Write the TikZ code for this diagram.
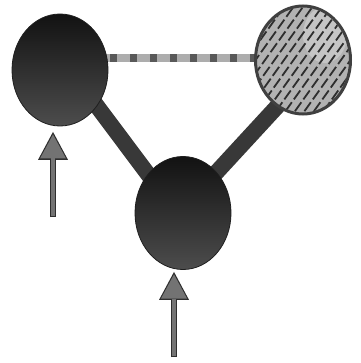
\documentclass[tikz,border=0pt]{standalone}
\usetikzlibrary{shapes.geometric,arrows.meta,calc,backgrounds}
\begin{document}
\begin{tikzpicture}[x=1pt,y=-1pt,
  darknode/.style={ellipse, inner sep=0pt, draw=black!88, line width=0.8pt,
    top color=black!93, middle color=black!90, bottom color=black!70},
  hatchnode/.style={ellipse, inner sep=0pt, draw=black!75, line width=3pt, fill=black!30},
  hatchline/.style={black!82, line width=1.8pt, dash pattern=on 11pt off 3.5pt},
  barline/.style={black!78, line width=16pt},
  dashbase/.style={black!32, line width=8pt},
  dashtop/.style={black!65, line width=8pt, dash pattern=on 7pt off 13pt, dash phase=10pt},
  arrowout/.style={line width=6pt, black!82, -{Triangle[width=30pt,length=28pt,line width=0pt]}},
  arrowin/.style={line width=3.4pt, black!55, -{Triangle[width=26pt,length=24pt,line width=0pt]}, shorten >=2.6pt, shorten <=1pt}
]
\useasboundingbox (0,0) rectangle (360,363);

\node[darknode, minimum width=96pt, minimum height=112pt] (TL) at (60,70) {};
\node[darknode, minimum width=96pt, minimum height=113pt] (B) at (183,213) {};
\node[hatchnode, minimum width=95pt, minimum height=108pt] (TR) at (303,60) {};

\begin{scope}
  \clip (TR.center) ellipse [x radius=46, y radius=52.5];
  \fill[white, opacity=0.25] ($(TR.center)+(22,-25)$) ellipse [x radius=22, y radius=28];
  \foreach \i in {-11,...,11} {
    \draw[hatchline] ($(TR.center)+(\i*9.5-45,63)$) -- ++(90,-126);
  }
\end{scope}

\begin{scope}[on background layer]
  \fill[white] (0,0) rectangle (360,363);
  \draw[barline] ($(TL.center)+(10,0)$) -- ($(B.center)+(-6,0)$);
  \draw[barline] ($(B.center)+(-4,0)$) -- ($(TR.center)+(17,0)$);
  \draw[dashbase] ($(TL.center)+(0,-12)$) -- ($(TR.center)+(0,-2)$);
  \draw[dashtop] ($(TL.center)+(0,-12)$) -- ($(TR.center)+(0,-2)$);
\end{scope}

\coordinate (a1) at (53,217);
\coordinate (a2) at (174,357);
\draw[arrowout] (a1) -- ($(TL.south)+(-7,5.5)$);
\draw[arrowin] (a1) -- ($(TL.south)+(-7,5.5)$);
\draw[arrowout] (a2) -- ($(B.south)+(-9,2)$);
\draw[arrowin] (a2) -- ($(B.south)+(-9,2)$);
\end{tikzpicture}
\end{document}
